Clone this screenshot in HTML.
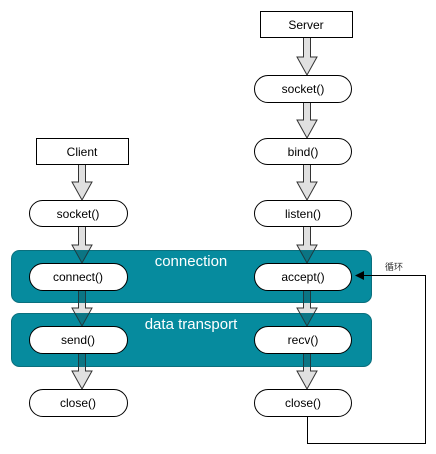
<!DOCTYPE html>
<html><head><meta charset="utf-8"><style>
html,body{margin:0;padding:0;background:#fff;}
svg{display:block;}
text{font-family:"Liberation Sans","Noto Sans CJK SC",sans-serif;}
</style></head><body>
<svg width="436" height="454" viewBox="0 0 436 454" xmlns="http://www.w3.org/2000/svg">
<defs>
<clipPath id="pc">
<rect x="11" y="250" width="361" height="53" rx="8"/>
<rect x="11" y="313" width="361" height="54" rx="8"/>
</clipPath>
<g id="arrows">
<path d="M303.5,37 V57 H297 L307,75 L317,57 H310.5 V37 Z"/>
<path d="M303.5,102 V120 H297 L307,138 L317,120 H310.5 V102 Z"/>
<path d="M303.5,164 V182 H297 L307,200 L317,182 H310.5 V164 Z"/>
<path d="M303.5,226 V245 H297 L307,263 L317,245 H310.5 V226 Z"/>
<path d="M303.5,290 V308 H297 L307,326 L317,308 H310.5 V290 Z"/>
<path d="M303.5,353 V371 H297 L307,389 L317,371 H310.5 V353 Z"/>
<path d="M78.5,164 V182 H72 L82,200 L92,182 H85.5 V164 Z"/>
<path d="M78.5,226 V245 H72 L82,263 L92,245 H85.5 V226 Z"/>
<path d="M78.5,290 V308 H72 L82,326 L92,308 H85.5 V290 Z"/>
<path d="M78.5,353 V371 H72 L82,389 L92,371 H85.5 V353 Z"/>
</g>
</defs>
<use href="#arrows" fill="#e0e0e0" stroke="#333" stroke-width="1"/>
<rect x="11.5" y="250.5" width="360" height="52" rx="8" fill="#068b9e" stroke="#0a6f7d"/>
<rect x="11.5" y="313.5" width="360" height="53" rx="8" fill="#068b9e" stroke="#0a6f7d"/>
<g clip-path="url(#pc)">
<use href="#arrows" fill="#0b7584" stroke="#1f3a40" stroke-width="1"/>
</g>
<text x="191" y="266" font-size="15" fill="#fff" text-anchor="middle">connection</text>
<text x="191" y="329" font-size="15" fill="#fff" text-anchor="middle">data transport</text>
<g fill="#fff" stroke="#000" stroke-width="1">
<rect x="260.5" y="11.5" width="92" height="26"/>
<rect x="36.5" y="138.5" width="92" height="26"/>
<rect x="254.5" y="75.5" width="97" height="27" rx="13.5"/>
<rect x="254.5" y="138.5" width="97" height="26" rx="13"/>
<rect x="254.5" y="200.5" width="97" height="26" rx="13"/>
<rect x="254.5" y="263.5" width="97" height="27" rx="13.5"/>
<rect x="254.5" y="326.5" width="97" height="27" rx="13.5"/>
<rect x="254.5" y="389.5" width="97" height="27" rx="13.5"/>
<rect x="29.5" y="200.5" width="98" height="26" rx="13"/>
<rect x="29.5" y="263.5" width="98" height="27" rx="13.5"/>
<rect x="29.5" y="326.5" width="98" height="27" rx="13.5"/>
<rect x="29.5" y="389.5" width="98" height="27" rx="13.5"/>
</g>
<g font-size="12" fill="#000" text-anchor="middle">
<text x="306" y="29">Server</text>
<text x="82" y="156">Client</text>
<text x="303" y="93">socket()</text>
<text x="303" y="156">bind()</text>
<text x="303" y="218">listen()</text>
<text x="303" y="281">accept()</text>
<text x="303" y="344">recv()</text>
<text x="303" y="407">close()</text>
<text x="78" y="218">socket()</text>
<text x="78" y="281">connect()</text>
<text x="78" y="344">send()</text>
<text x="78" y="407">close()</text>
</g>
<path d="M307.5,417 V443.5 H425.5 V275.5 H362" fill="none" stroke="#000" stroke-width="1"/>
<path d="M355,275.5 L364,271 L364,280 Z" fill="#000"/>
<text x="394" y="270" font-size="9" fill="#333" text-anchor="middle">循环</text>
</svg>
</body></html>
